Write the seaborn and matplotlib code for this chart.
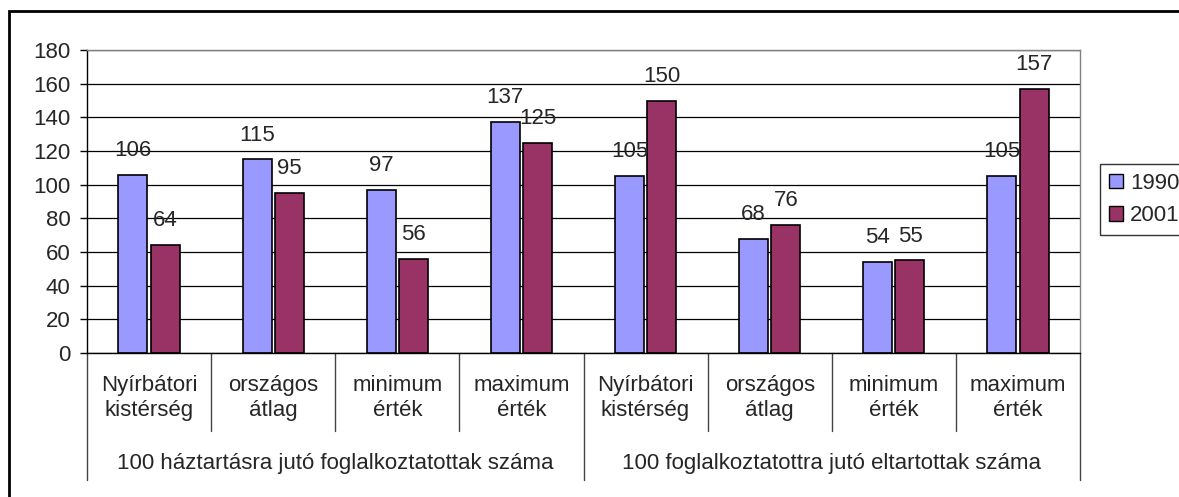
import matplotlib
matplotlib.use('Agg')
import matplotlib.pyplot as plt
import matplotlib.patches as mpatches
import matplotlib.transforms as mtransforms
import seaborn as sns
import pandas as pd

# data
groups = ['100 háztartásra jutó foglalkoztatottak száma',
          '100 foglalkoztatottra jutó eltartottak száma']
subcats = ['Nyírbátori\nkistérség', 'országos\nátlag', 'minimum\nérték', 'maximum\nérték']
years = ['1990', '2001']
vals_1990 = [106, 115, 97, 137, 105, 68, 54, 105]
vals_2001 = [64, 95, 56, 125, 150, 76, 55, 157]
colors = {'1990': '#9999FF', '2001': '#993366'}

keys = [f'{g}|{s}' for g in groups for s in subcats]
df = pd.DataFrame({
    'cat': keys * 2,
    'year': ['1990'] * 8 + ['2001'] * 8,
    'value': vals_1990 + vals_2001,
})

FS = 16

sns.set_theme(style='white')
plt.rcParams['font.family'] = ['Liberation Sans', 'DejaVu Sans']

fig = plt.figure(figsize=(11.79, 4.97), dpi=100)
ax = fig.add_axes([87 / 1179, 1 - 353 / 497, (1080 - 87) / 1179, (353 - 50) / 497])

sns.barplot(data=df, x='cat', y='value', hue='year', palette=colors,
            order=keys, hue_order=years, width=0.52, gap=0.1,
            edgecolor='black', linewidth=1.2, saturation=1, ax=ax, legend=False)

ax.set_ylim(0, 180)
ax.set_xlim(-0.5, 7.5)
ax.set_yticks(range(0, 181, 20))
ax.tick_params(axis='y', labelsize=FS, length=5, width=1, color='black',
               left=True, pad=7)
ax.tick_params(axis='x', bottom=False, labelbottom=False)
ax.set_xlabel('')
ax.set_ylabel('')
ax.yaxis.grid(True, color='black', linewidth=0.9)
ax.set_axisbelow(True)
for side in ['top', 'right']:
    ax.spines[side].set_color('#808080')
    ax.spines[side].set_linewidth(1)
for side in ['left', 'bottom']:
    ax.spines[side].set_color('black')
    ax.spines[side].set_linewidth(1)

# value labels
for cont in ax.containers:
    ax.bar_label(cont, fmt='%d', padding=10, fontsize=FS)

# multi-level category axis
trans = mtransforms.blended_transform_factory(ax.transData, fig.transFigure)
def fy(py):
    return 1 - py / 497

for i in range(9):
    x = i - 0.5
    y_end = 480 if i % 4 == 0 else 431
    ax.plot([x, x], [fy(353), fy(y_end)], color='#444444', lw=1,
            transform=trans, clip_on=False)
for i, k in enumerate(keys):
    sub = k.split('|')[1]
    ax.text(i, fy(398), sub, transform=trans, ha='center', va='center',
            fontsize=FS, linespacing=1.3)
for j, g in enumerate(groups):
    ax.text(j * 4 + 1.5, fy(464), g, transform=trans, ha='center',
            va='center', fontsize=FS)

# legend
handles = [mpatches.Patch(facecolor=colors[y], edgecolor='black', label=y)
           for y in years]
leg = fig.legend(handles=handles, loc='upper left',
                 bbox_to_anchor=(1100 / 1179, 1 - 164 / 497),
                 fontsize=FS, frameon=True, fancybox=False,
                 handlelength=0.65, handleheight=0.65, handletextpad=0.3,
                 borderpad=0.4, labelspacing=0.5, borderaxespad=0)
leg.get_frame().set_edgecolor('black')
leg.get_frame().set_linewidth(1)

# outer chart border
fig.patches.append(mpatches.Rectangle((9 / 1179, -0.1), 1.2, 1.1 - 11 / 497,
                                      transform=fig.transFigure, fill=False,
                                      edgecolor='black', linewidth=2))

fig.savefig('out.png', dpi=100)
